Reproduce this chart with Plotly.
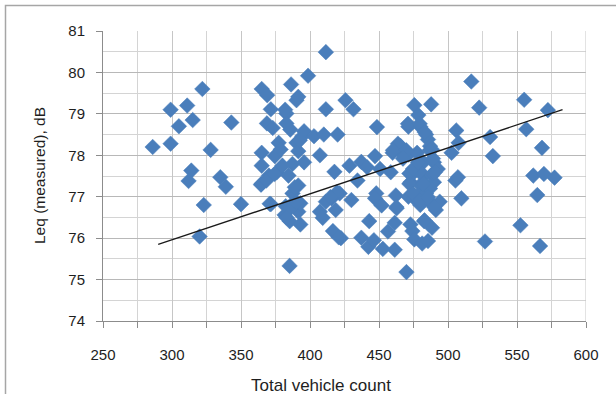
import plotly.graph_objects as go

vehicle_count = [
    286, 299, 299, 305, 311, 315, 314, 312, 322, 320, 323, 328, 335, 339, 343, 350,
    365, 369, 365, 365, 364.5, 371.6, 368.8, 373, 374.5, 377.3, 378.7, 371.6, 370.2, 375.9,
    380, 382.9, 382.9, 385.7, 386.3, 385.2, 387.3, 384.4, 381.6, 385.3, 382.4, 388.7, 387.3,
    391.5, 393, 391.5, 393, 390.2, 391.5, 390.2, 391.5, 394.4, 395.7, 398.6, 395.7, 402.9,
    407.2, 407.2, 409.2, 411.5, 411.5, 410, 420, 417.7, 415.7, 411.5, 418.6, 416.6, 421.5,
    422.4, 425.7, 428.6, 431.5, 430, 434.4, 437.2, 441.4, 437.2, 442.9, 442.3, 446.3, 448.5,
    447.1, 448, 447.1, 450.8, 451.9, 452.8, 456.5, 458.5, 459.9, 461.4, 461.4, 462.2, 462.8,
    464.2, 465.7, 468.5, 471.3, 469.9, 471.3, 472.8, 471.3, 472.8, 474.2, 475.6, 475.6,
    478.5, 479.9, 477.6, 474.2, 477.1, 479.9, 478.5, 475.6, 479.9, 482.1, 482.7, 482.7,
    484.1, 482.7, 481.3, 485.5, 484.1, 485.5, 487, 487.8, 488.4, 489.8, 488.4, 489.8, 487,
    487, 491.2, 488.4, 492.6, 494, 502.6, 506, 507.7, 505.4, 509.7, 516.9, 522.6, 530.5,
    532.5, 526.8, 552.5, 555.2, 556.7, 561.8, 564.7, 566.7, 568.1, 569.5, 572.4, 577.2,
    472, 479.5, 489, 472, 482, 474.6, 479.5, 485.5, 490, 462.6, 483, 471, 479.5, 463.7,
    460.1, 469.8, 486.7, 489.1, 467.4, 474.6, 490.4, 507.2, 382, 392.6, 364.8, 368.4,
    389, 370.8, 385.3, 390.1, 382.9, 419.6, 414.8, 420.8, 374.4, 478.3, 483.1,
]
leq_measured = [
    78.2, 79.1, 78.28, 78.7, 79.2, 78.85, 77.63, 77.38, 79.6, 76.04, 76.8, 78.13, 77.47, 77.24, 78.79, 76.82,
    79.6, 79.45, 78.06, 77.75, 77.29, 79.11, 78.77, 78.66, 77.98, 78.3, 78.14, 76.82, 77.51, 77.59,
    77.75, 79.01, 78.77, 78.62, 79.71, 75.33, 77.79, 77.51, 76.56, 76.41, 76.77, 76.88, 77.08,
    77.27, 76.33, 76.64, 76.84, 79.33, 79.41, 78.3, 78.1, 78.46, 78.58, 79.92, 77.83, 78.46,
    78.0, 76.64, 76.49, 80.49, 79.11, 78.5, 78.5, 77.6, 76.96, 76.88, 76.68, 76.17, 77.08,
    76.0, 79.33, 77.75, 79.11, 76.92, 77.39, 77.84, 77.71, 76.01, 76.41, 75.79, 75.95, 78.68,
    77.98, 77.08, 76.96, 77.67, 76.79, 75.74, 76.16, 77.59, 78.06, 76.37, 75.72, 77.03, 76.72,
    78.14, 78.22, 77.98, 78.69, 75.18, 78.02, 77.35, 77.0, 76.33, 76.17, 75.97, 79.21,
    78.97, 78.69, 78.06, 77.55, 77.67, 77.28, 77.04, 76.96, 76.8, 77.83, 77.51, 77.32,
    77.08, 76.41, 75.87, 75.93, 78.5, 78.38, 78.22, 79.23, 78.14, 77.83, 77.51, 77.35, 77.2,
    76.88, 76.68, 76.25, 77.67, 76.88, 78.06, 78.6, 78.3, 77.39, 76.96, 79.78, 79.15, 78.44,
    77.98, 75.92, 76.31, 79.34, 78.63, 77.51, 77.04, 75.81, 78.18, 77.55, 79.09, 77.46,
    77.56, 77.59, 77.56, 77.31, 77.31, 77.07, 76.91, 76.99, 76.75, 76.75, 76.43, 78.76, 78.76, 78.28,
    78.12, 78.12, 78.12, 77.92, 77.92, 77.67, 77.59, 77.47, 79.1, 78.36, 77.31, 77.39,
    77.23, 76.83, 76.71, 76.87, 76.5, 77.11, 76.99, 76.02, 77.55, 77.83, 78.56,
]

trend_x = [290, 583]
trend_y = [75.85, 79.1]

x_ticks = [250, 300, 350, 400, 450, 500, 550, 600]
y_ticks = [74, 75, 76, 77, 78, 79, 80, 81]

x_title = "Total vehicle count"
y_title = "Leq (measured), dB"

FONT = "Liberation Sans, Arial, sans-serif"

fig = go.Figure()
fig.add_trace(go.Scatter(
    x=vehicle_count, y=leq_measured, mode="markers",
    marker=dict(symbol="diamond", size=12, color="#4a7ebb",
                line=dict(width=0.5, color="#4a7ebb")),
    showlegend=False, hoverinfo="skip",
))
fig.add_trace(go.Scatter(
    x=trend_x, y=trend_y, mode="lines",
    line=dict(color="#1a1a1a", width=1.3),
    showlegend=False, hoverinfo="skip",
))

fig.update_layout(
    width=616, height=394,
    margin=dict(l=103, r=30, t=31, b=73),
    paper_bgcolor="white", plot_bgcolor="white",
    font=dict(family=FONT, size=15, color="#1e1e1e"),
    xaxis=dict(
        range=[250, 600], tickvals=x_ticks, ticktext=[str(v) for v in x_ticks],
        showgrid=True, gridcolor="#c6c6c6", gridwidth=1,
        showline=True, linecolor="#8c8c8c", linewidth=1,
        ticks="outside", ticklen=6, tickcolor="#8c8c8c",
        minor=dict(dtick=25, tick0=250, showgrid=True, gridcolor="#d4d4d4",
                   ticks="outside", ticklen=6, tickcolor="#8c8c8c"),
        zeroline=False, automargin=False,
        ticklabelstandoff=14,
        tickfont=dict(family=FONT, size=15, color="#1e1e1e"),
    ),
    yaxis=dict(
        range=[74, 81], tickvals=y_ticks, ticktext=[str(v) for v in y_ticks],
        showgrid=True, gridcolor="#b8b8b8", gridwidth=1,
        showline=True, linecolor="#8c8c8c", linewidth=1,
        ticks="outside", ticklen=6, tickcolor="#8c8c8c",
        minor=dict(dtick=0.5, tick0=74, showgrid=True, gridcolor="#d4d4d4"),
        zeroline=False, automargin=False,
        ticklabelstandoff=8,
        tickfont=dict(family=FONT, size=15, color="#1e1e1e"),
    ),
    annotations=[
        dict(text=x_title, xref="paper", yref="paper",
             x=(321 - 103) / 483, y=(321 - 385) / 290,
             xanchor="center", yanchor="middle", showarrow=False,
             font=dict(family=FONT, size=17, color="#1e1e1e")),
        dict(text=y_title, xref="paper", yref="paper",
             x=(39 - 103) / 483, y=(321 - 176) / 290, textangle=-90,
             xanchor="center", yanchor="middle", showarrow=False,
             font=dict(family=FONT, size=15.5, color="#1e1e1e")),
    ],
    shapes=[
        dict(type="line", xref="x", yref="paper", x0=600, x1=600, y0=0, y1=1,
             line=dict(color="#c6c6c6", width=1)),
        dict(type="rect", xref="paper", yref="paper",
             x0=(5.5 - 103) / 483, x1=(640 - 103) / 483,
             y0=-0.5, y1=(321 - 5.5) / 290,
             line=dict(color="#a6a6a6", width=1.5), fillcolor="rgba(0,0,0,0)", layer="below"),
    ],
)

fig.write_html("out.html", config={"displayModeBar": False},
               post_script="document.body.style.margin='0';document.body.style.overflow='hidden';")
